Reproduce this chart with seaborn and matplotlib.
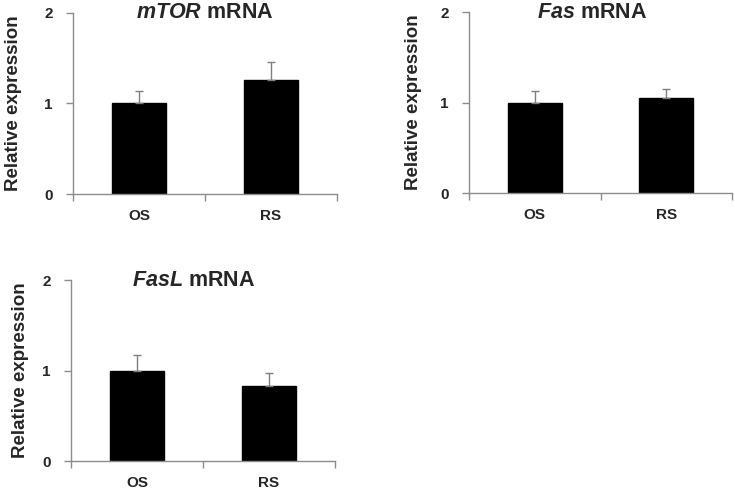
import matplotlib
matplotlib.use("Agg")
import matplotlib.pyplot as plt
import seaborn as sns
import pandas as pd
import numpy as np

sns.set_theme(style="white")
plt.rcParams['font.family'] = ['Liberation Sans', 'DejaVu Sans']
plt.rcParams['mathtext.fontset'] = 'custom'
plt.rcParams['mathtext.it'] = 'Liberation Sans:italic:bold'
plt.rcParams['mathtext.rm'] = 'Liberation Sans:bold'

groups = ["OS", "RS"]
genes = ["mTOR", "Fas", "FasL"]
mtor_mean = [1.00, 1.26]
mtor_err = [0.14, 0.20]
fas_mean = [1.00, 1.05]
fas_err = [0.13, 0.10]
fasl_mean = [1.00, 0.83]
fasl_err = [0.17, 0.14]
yticks = [0, 1, 2]

series = {
    "mTOR": (mtor_mean, mtor_err),
    "Fas": (fas_mean, fas_err),
    "FasL": (fasl_mean, fasl_err),
}

W, H = 735, 490
fig = plt.figure(figsize=(W / 100, H / 100), dpi=100)

# axes boxes in pixel coords: (left, right, top, bottom)
boxes = {
    "mTOR": (73, 337, 13, 194),
    "Fas": (469, 732, 12, 193),
    "FasL": (71, 335, 280, 461),
}
label_x = {"mTOR": -0.193, "Fas": -0.179, "FasL": -0.159}
title_x = {"mTOR": 0.5, "Fas": 0.468, "FasL": 0.466}

axis_gray = "#8c8c8c"

for gene in genes:
    l, r, t, b = boxes[gene]
    ax = fig.add_axes([l / W, 1 - b / H, (r - l) / W, (b - t) / H])
    means, errs = series[gene]
    df = pd.DataFrame({"group": groups, "value": means})
    sns.barplot(data=df, x="group", y="value", color="black", saturation=1,
                width=0.41, ax=ax, errorbar=None, edgecolor="black")
    ax.errorbar(np.arange(len(groups)), means,
                yerr=[np.zeros(len(errs)), errs], fmt="none",
                ecolor="#7f7f7f", elinewidth=1.0, capsize=3, capthick=1.0,
                zorder=1)
    ax.set_xlim(-0.5, len(groups) - 0.5)
    ax.set_ylim(0, 2)
    ax.set_yticks(yticks)
    ax.set_yticklabels([str(v) for v in yticks], fontsize=11, fontweight="bold")
    ax.set_xticks(range(len(groups)))
    ax.set_xticklabels(groups, fontsize=11, fontweight="bold")
    ax.set_xticks([-0.5, 0.5, 1.5], minor=True)
    ax.tick_params(axis="x", which="major", length=0, pad=11)
    ax.tick_params(axis="x", which="minor", length=5, width=1, color=axis_gray,
                   direction="out", bottom=True)
    ax.tick_params(axis="y", which="major", length=5, width=1, color=axis_gray,
                   direction="out", left=True, pad=9.5)
    for s in ["top", "right"]:
        ax.spines[s].set_visible(False)
    for s in ["left", "bottom"]:
        ax.spines[s].set_color(axis_gray)
        ax.spines[s].set_linewidth(1)
    ax.set_xlabel("")
    ax.set_ylabel("Relative expression", fontsize=13.5, fontweight="bold")
    ax.yaxis.set_label_coords(label_x[gene], 0.5)
    ax.set_title(r"$\mathit{" + gene + r"}$" + " mRNA", fontsize=15.5,
                 fontweight="bold", x=title_x[gene], y=1.0, va="center", pad=0)

fig.savefig("out.png", dpi=100)
